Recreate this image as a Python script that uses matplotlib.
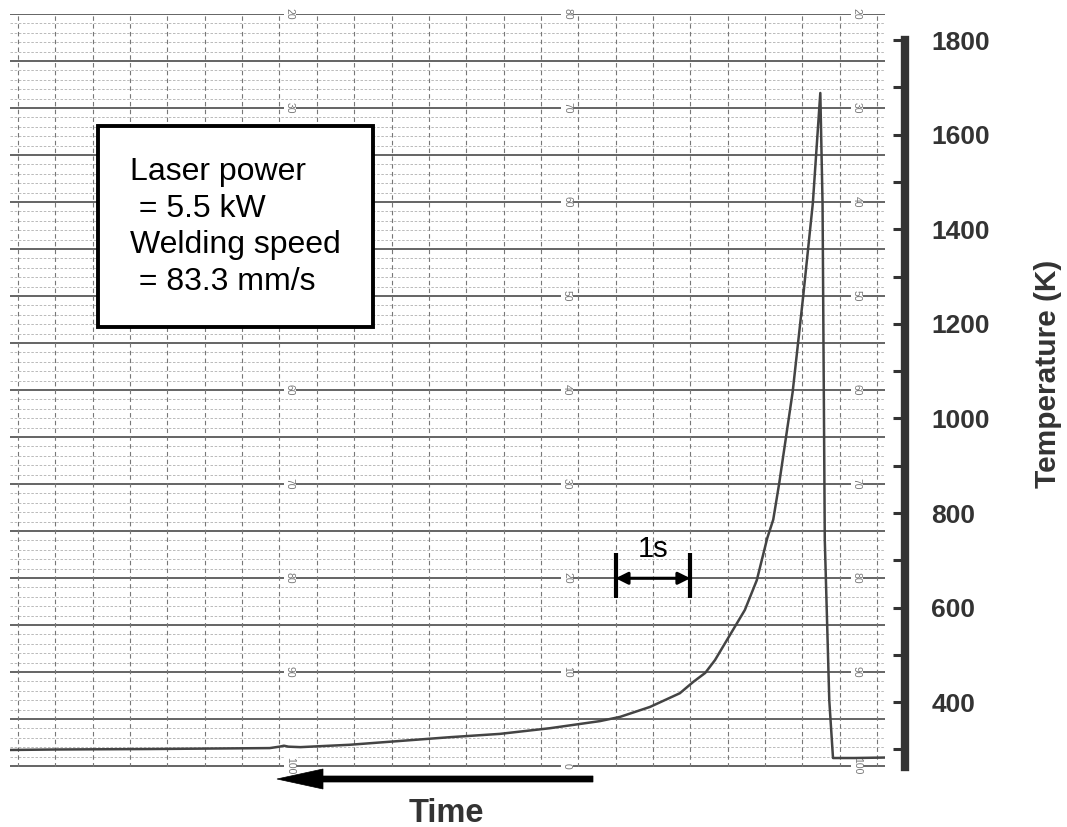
import numpy as np
import matplotlib.pyplot as plt
from matplotlib.patches import Rectangle, Polygon

plt.rcParams['font.family'] = ['Liberation Sans', 'DejaVu Sans']

# thermocouple trace (time in s, temperature in K)
time_s = [-0.11, 0.5, 1.77, 3.37, 3.50, 3.56, 3.62, 3.78, 4.44, 5.11, 5.78, 6.45,
          7.12, 7.79, 8.06, 8.46, 8.86, 9.04, 9.20, 9.33, 9.53, 9.73, 9.89, 10.03,
          10.11, 10.19, 10.37, 10.51, 10.64, 10.74, 10.77, 10.80, 10.86, 10.91,
          11.20, 11.61]
temp_K = [299, 300, 301, 303, 306, 308, 306, 305, 310, 318, 326, 333,
          345, 360, 369, 390, 419, 443, 462, 489, 542, 595, 658, 747,
          786, 863, 1056, 1257, 1455, 1688, 1455, 743, 404, 282,
          282, 283]

temp_ticks = [400, 600, 800, 1000, 1200, 1400, 1600, 1800]
temp_minor = [300, 500, 700, 900, 1100, 1300, 1500, 1700]
box_text = "Laser power\n = 5.5 kW\nWelding speed\n = 83.3 mm/s"

W, H = 1067, 827
fig = plt.figure(figsize=(W / 100, H / 100), dpi=100)
rect = [10 / W, 60 / H, 875 / W, 753 / H]
xlim = (-0.107, 11.606)

# recorder paper
axp = fig.add_axes(rect, zorder=0)
axp.set_xlim(*xlim)
axp.set_ylim(-0.1, 80)
axp.axis('off')
for u in range(0, 81):
    if u % 5 == 0:
        axp.axhline(u, color='#4a4a4a', lw=1.2, zorder=1)
    else:
        axp.axhline(u, color='#b0b0b0', lw=0.6, ls=(0, (3, 2)), zorder=1)
for t in np.arange(0, 11.51, 0.5):
    axp.axvline(t, color='#777777', lw=0.8, ls=(0, (4, 3)), zorder=1)
for u in range(0, 81, 10):
    for tc, lab in [(3.64, 100 - u), (7.35, u), (11.23, 100 - u)]:
        if tc < 4 and u in (50, 60):
            continue  # hidden under the parameter box
        axp.text(tc, u, str(lab), rotation=-90, fontsize=7.5, color='#777777',
                 ha='center', va='center', zorder=2,
                 bbox=dict(fc='white', ec='none', pad=0.5))

# data axes
ax = fig.add_axes(rect, zorder=2)
ax.patch.set_alpha(0)
ax.set_xlim(*xlim)
ax.set_ylim(263, 1855)
ax.plot(time_s, temp_K, color='#444444', lw=1.8, solid_joinstyle='round')
for s in ['left', 'top', 'bottom']:
    ax.spines[s].set_visible(False)
ax.set_xticks([])
ax.yaxis.tick_right()
ax.spines['right'].set_position(('outward', 14.4))
ax.spines['right'].set_linewidth(6)
ax.spines['right'].set_color('#333333')
ax.spines['right'].set_bounds(263, 1800)
ax.set_yticks(temp_ticks)
ax.set_yticks(temp_minor, minor=True)
ax.tick_params(axis='y', which='both', direction='in', length=9, width=2.2,
               color='#333333', labelsize=19, labelcolor='#333333', pad=19)
for lab in ax.get_yticklabels():
    lab.set_fontweight('bold')

# 1 s scale bar
for tb in [8.0, 9.0]:
    ax.plot([tb, tb], [620, 715], color='black', lw=3, solid_capstyle='butt')
ax.annotate('', xy=(8.0, 662), xytext=(9.0, 662),
            arrowprops=dict(arrowstyle='<|-|>', color='black', lw=2.2,
                            mutation_scale=18, shrinkA=0, shrinkB=0))
ax.text(8.5, 724, '1s', fontsize=21, ha='center', va='center')

# parameter box
fig.add_artist(Rectangle((98 / W, 500 / H), 275 / W, 201 / H, transform=fig.transFigure,
                         fc='white', ec='black', lw=2.8, zorder=3))
fig.text(130 / W, 1 - 227 / H, box_text, fontsize=23, ha='left', va='center',
         linespacing=1.3, zorder=4)

# time arrow
ay = H - 779
arrow = [(593, ay + 3), (323, ay + 3), (323, ay + 10), (277, ay), (323, ay - 10),
         (323, ay - 3), (593, ay - 3)]
fig.add_artist(Polygon([(x / W, y / H) for x, y in arrow], closed=True,
                       transform=fig.transFigure, fc='black', ec='black', lw=0.5))
fig.text(446 / W, 1 - 813 / H, 'Time', fontsize=23.5, fontweight='bold',
         color='#333333', ha='center', va='center')
fig.text(1048 / W, 1 - 374 / H, 'Temperature (K)', fontsize=21.5, fontweight='bold',
         color='#333333', rotation=90, ha='center', va='center')

fig.savefig('out.png', dpi=100)
